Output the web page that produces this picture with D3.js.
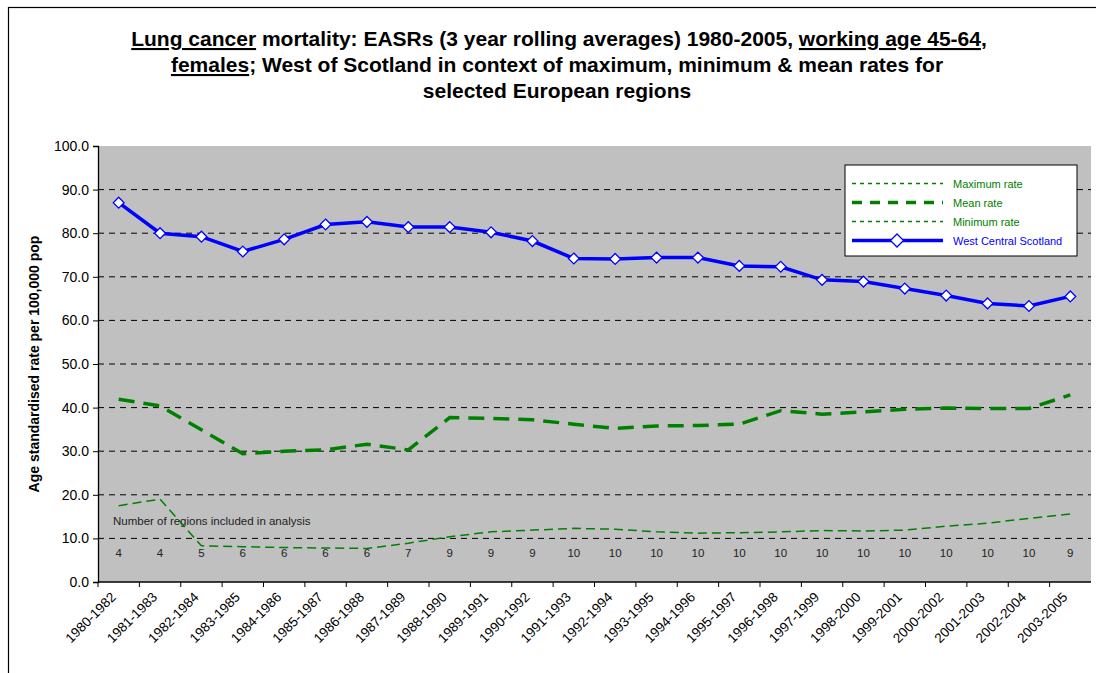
<!DOCTYPE html>
<html>
<head>
<meta charset="utf-8">
<script src="https://cdn.jsdelivr.net/npm/d3@7"></script>
<style>
  body { margin: 0; background: #fff; }
  text { font-family: Arial, "Liberation Sans", sans-serif; }
</style>
</head>
<body>
<div id="chart"></div>
<script>
const periods = ['1980-1982','1981-1983','1982-1984','1983-1985','1984-1986','1985-1987',
  '1986-1988','1987-1989','1988-1990','1989-1991','1990-1992','1991-1993','1992-1994',
  '1993-1995','1994-1996','1995-1997','1996-1998','1997-1999','1998-2000','1999-2001',
  '2000-2002','2001-2003','2002-2004','2003-2005'];

const westCentral = [87.0, 80.0, 79.2, 75.8, 78.6, 82.0, 82.6, 81.4, 81.4, 80.2, 78.2, 74.2,
  74.1, 74.4, 74.4, 72.5, 72.3, 69.3, 68.9, 67.3, 65.7, 63.9, 63.3, 65.5];
// West of Scotland is the highest region, so the max line sits under the blue one
const maxRate = [87.0, 80.0, 79.2, 75.8, 78.6, 82.0, 82.6, 81.4, 81.4, 80.2, 78.2, 74.2,
  74.1, 74.4, 74.4, 72.5, 72.3, 69.3, 68.9, 67.3, 65.7, 63.9, 63.3, 65.5];
const meanRate = [41.9, 40.4, 34.9, 29.4, 30.0, 30.3, 31.6, 30.3, 37.7, 37.5, 37.2, 36.2,
  35.2, 35.8, 35.9, 36.2, 39.3, 38.5, 39.0, 39.6, 39.9, 39.8, 39.8, 42.9];
const minRate = [17.5, 19.0, 8.3, 8.1, 7.9, 7.8, 7.7, 8.9, 10.4, 11.5, 11.9, 12.3,
  12.1, 11.5, 11.2, 11.3, 11.5, 11.8, 11.7, 11.9, 12.8, 13.5, 14.6, 15.6];
const regionCounts = [4, 4, 5, 6, 6, 6, 6, 7, 9, 9, 9, 10, 10, 10, 10, 10, 10, 10, 10, 10, 10, 10, 10, 9];
const yTicks = [0, 10, 20, 30, 40, 50, 60, 70, 80, 90, 100];

const width = 1096, height = 673;
const margin = { top: 146, right: 5, bottom: 91, left: 98 };
const green = '#008000', blue = '#0000ff';

const svg = d3.select('#chart').append('svg')
  .attr('width', width).attr('height', height);

// outer chart frame
svg.append('rect')
  .attr('x', 8.5).attr('y', 7.5)
  .attr('width', 1200).attr('height', 900)
  .attr('fill', 'none').attr('stroke', '#000').attr('stroke-width', 1.2);

// title
const title = svg.append('text')
  .attr('text-anchor', 'middle')
  .attr('font-weight', 'bold')
  .attr('font-size', '21px');
const line1 = title.append('tspan').attr('x', 559).attr('y', 46);
line1.append('tspan').attr('text-decoration', 'underline').text('Lung cancer');
line1.append('tspan').text(' mortality: EASRs (3 year rolling averages) 1980-2005, ');
line1.append('tspan').attr('text-decoration', 'underline').text('working age 45-64');
line1.append('tspan').text(',');
const line2 = title.append('tspan').attr('x', 557).attr('y', 72);
line2.append('tspan').attr('text-decoration', 'underline').text('females');
line2.append('tspan').text('; West of Scotland in context of maximum, minimum & mean rates for');
title.append('tspan').attr('x', 557).attr('y', 98).text('selected European regions');

const x = d3.scaleBand()
  .domain(periods)
  .range([margin.left, width - margin.right]);

const y = d3.scaleLinear()
  .domain([0, 100])
  .range([height - margin.bottom, margin.top]);

// plot area
svg.append('rect')
  .attr('x', margin.left).attr('y', y(100))
  .attr('width', x.range()[1] - margin.left)
  .attr('height', y(0) - y(100))
  .attr('fill', '#c0c0c0');

// gridlines
svg.append('g')
  .selectAll('line')
  .data(yTicks.filter(d => d > 0 && d < 100))
  .join('line')
    .attr('x1', margin.left).attr('x2', x.range()[1])
    .attr('y1', d => y(d)).attr('y2', d => y(d))
    .attr('stroke', '#000').attr('stroke-width', 1)
    .attr('stroke-dasharray', '6,5');

// y axis
const yAxis = svg.append('g')
  .attr('transform', `translate(${margin.left},0)`)
  .call(d3.axisLeft(y).tickValues(yTicks).tickFormat(d3.format('.1f')).tickSizeOuter(0).tickSize(5));
yAxis.select('.domain').attr('stroke', '#000').attr('stroke-width', 1.3);
yAxis.selectAll('text').attr('font-size', '14px').attr('font-family', 'Arial, "Liberation Sans", sans-serif').attr('x', -9).attr('fill', '#000');

svg.append('text')
  .attr('transform', `translate(39,${(y(0) + y(100)) / 2}) rotate(-90)`)
  .attr('text-anchor', 'middle')
  .attr('font-weight', 'bold')
  .attr('font-size', '14px')
  .text('Age standardised rate per 100,000 pop');

// x axis
const xAxis = svg.append('g')
  .attr('transform', `translate(0,${y(0)})`);
xAxis.append('line')
  .attr('x1', margin.left).attr('x2', x.range()[1])
  .attr('stroke', '#000').attr('stroke-width', 1.3);
xAxis.selectAll('.tk')
  .data(periods)
  .join('line')
    .attr('class', 'tk')
    .attr('x1', d => x(d)).attr('x2', d => x(d))
    .attr('y1', 0).attr('y2', 5)
    .attr('stroke', '#000');
xAxis.selectAll('.lbl')
  .data(periods)
  .join('text')
    .attr('class', 'lbl')
    .attr('text-anchor', 'end')
    .attr('font-size', '13.5px')
    .attr('transform', d => `translate(${x(d) + x.bandwidth() / 2 - 2},${16}) rotate(-45)`)
    .text(d => d);

// region counts
svg.append('text')
  .attr('x', 113).attr('y', y(13.1))
  .attr('font-size', '11.5px').attr('fill', '#222')
  .text('Number of regions included in analysis');
svg.append('g')
  .selectAll('text')
  .data(regionCounts)
  .join('text')
    .attr('x', (d, i) => x(periods[i]) + x.bandwidth() / 2)
    .attr('y', y(5.8))
    .attr('text-anchor', 'middle')
    .attr('font-size', '11.5px').attr('fill', '#222')
    .text(d => d);

const line = d3.line()
  .x((d, i) => x(periods[i]) + x.bandwidth() / 2)
  .y(d => y(d));

const series = [
  { values: minRate, width: 1.5, dash: '9,5' },
  { values: meanRate, width: 3.5, dash: '16,9' },
  { values: maxRate, width: 1.5, dash: '9,5' },
];
series.forEach(s => {
  svg.append('path')
    .datum(s.values)
    .attr('d', line)
    .attr('fill', 'none')
    .attr('stroke', green)
    .attr('stroke-width', s.width)
    .attr('stroke-dasharray', s.dash);
});

svg.append('path')
  .datum(westCentral)
  .attr('d', line)
  .attr('fill', 'none')
  .attr('stroke', blue)
  .attr('stroke-width', 3.5);

const diamond = d3.symbol().type(d3.symbolDiamond2).size(75);
svg.append('g')
  .selectAll('path')
  .data(westCentral)
  .join('path')
    .attr('transform', (d, i) => `translate(${x(periods[i]) + x.bandwidth() / 2},${y(d)})`)
    .attr('d', diamond)
    .attr('fill', '#fff')
    .attr('stroke', blue)
    .attr('stroke-width', 1.3);

// legend
const legend = svg.append('g').attr('transform', 'translate(845,165)');
legend.append('rect')
  .attr('width', 232).attr('height', 91)
  .attr('fill', '#fff').attr('stroke', '#000').attr('stroke-width', 1);
const legendItems = [
  { name: 'Maximum rate', color: green, width: 1.5, dash: '4,4' },
  { name: 'Mean rate', color: green, width: 3.5, dash: '10,8' },
  { name: 'Minimum rate', color: green, width: 1.5, dash: '4,4' },
  { name: 'West Central Scotland', color: blue, width: 3.5, dash: null },
];
legendItems.forEach((it, i) => {
  const yy = 18.5 + i * 19;
  legend.append('line')
    .attr('x1', 7).attr('x2', 98)
    .attr('y1', yy).attr('y2', yy)
    .attr('stroke', it.color)
    .attr('stroke-width', it.width)
    .attr('stroke-dasharray', it.dash);
  if (!it.dash) {
    legend.append('path')
      .attr('transform', `translate(52,${yy})`)
      .attr('d', d3.symbol().type(d3.symbolDiamond2).size(110))
      .attr('fill', '#fff').attr('stroke', blue).attr('stroke-width', 1.3);
  }
  legend.append('text')
    .attr('x', 108).attr('y', yy + 4)
    .attr('font-size', '11px')
    .attr('fill', it.color)
    .text(it.name);
});
</script>
</body>
</html>
